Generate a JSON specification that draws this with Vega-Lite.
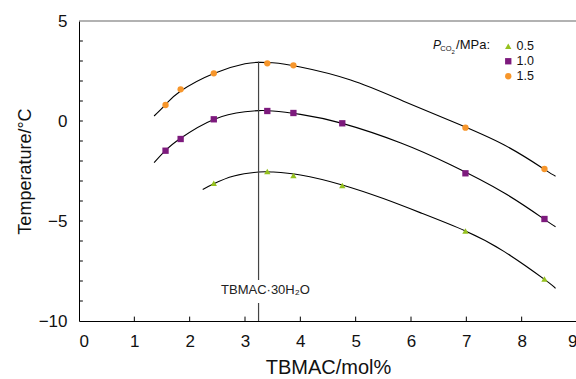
{
  "$schema": "https://vega.github.io/schema/vega-lite/v6.json",
  "width": 498,
  "height": 300,
  "autosize": {"type": "none"},
  "padding": {"left": 79, "top": 21, "right": 0, "bottom": 58},
  "background": "white",
  "config": {
    "view": {"stroke": null},
    "font": "Liberation Sans",
    "axis": {"grid": false, "ticks": false, "labelOverlap": false, "domainColor": "#000", "labelColor": "#111", "titleColor": "#111", "labelFont": "Liberation Sans", "titleFont": "Liberation Sans", "titleFontWeight": "normal", "labelFontSize": 17}
  },
  "datasets": {
    "points": [
      {"x": 1.564, "t": 0.8, "p": "1.5"},
      {"x": 1.837, "t": 1.585, "p": "1.5"},
      {"x": 2.436, "t": 2.385, "p": "1.5"},
      {"x": 3.403, "t": 2.885, "p": "1.5"},
      {"x": 3.875, "t": 2.785, "p": "1.5"},
      {"x": 6.984, "t": -0.335, "p": "1.5"},
      {"x": 8.412, "t": -2.4, "p": "1.5"},
      {"x": 1.564, "t": -1.485, "p": "1.0"},
      {"x": 1.837, "t": -0.9, "p": "1.0"},
      {"x": 2.436, "t": 0.085, "p": "1.0"},
      {"x": 3.403, "t": 0.5, "p": "1.0"},
      {"x": 3.875, "t": 0.4, "p": "1.0"},
      {"x": 4.758, "t": -0.115, "p": "1.0"},
      {"x": 6.984, "t": -2.615, "p": "1.0"},
      {"x": 8.412, "t": -4.9, "p": "1.0"},
      {"x": 2.436, "t": -3.115, "p": "0.5"},
      {"x": 3.403, "t": -2.52, "p": "0.5"},
      {"x": 3.875, "t": -2.72, "p": "0.5"},
      {"x": 4.758, "t": -3.22, "p": "0.5"},
      {"x": 6.984, "t": -5.5, "p": "0.5"},
      {"x": 8.412, "t": -7.9, "p": "0.5"}
    ],
    "curves": [
      {"x": 1.357, "t": 0.25, "p": "1.5"},
      {"x": 1.564, "t": 0.82, "p": "1.5"},
      {"x": 1.837, "t": 1.5, "p": "1.5"},
      {"x": 2.436, "t": 2.38, "p": "1.5"},
      {"x": 3.0, "t": 2.86, "p": "1.5"},
      {"x": 3.25, "t": 2.93, "p": "1.5"},
      {"x": 3.5, "t": 2.91, "p": "1.5"},
      {"x": 4.0, "t": 2.7, "p": "1.5"},
      {"x": 4.909, "t": 2.05, "p": "1.5"},
      {"x": 5.817, "t": 1.05, "p": "1.5"},
      {"x": 6.724, "t": 0.0, "p": "1.5"},
      {"x": 7.686, "t": -1.2, "p": "1.5"},
      {"x": 8.412, "t": -2.42, "p": "1.5"},
      {"x": 8.612, "t": -2.76, "p": "1.5"},
      {"x": 1.357, "t": -2.08, "p": "1.0"},
      {"x": 1.564, "t": -1.47, "p": "1.0"},
      {"x": 1.837, "t": -0.86, "p": "1.0"},
      {"x": 2.436, "t": 0.08, "p": "1.0"},
      {"x": 3.0, "t": 0.46, "p": "1.0"},
      {"x": 3.25, "t": 0.52, "p": "1.0"},
      {"x": 3.5, "t": 0.5, "p": "1.0"},
      {"x": 4.002, "t": 0.33, "p": "1.0"},
      {"x": 4.758, "t": -0.12, "p": "1.0"},
      {"x": 5.817, "t": -1.1, "p": "1.0"},
      {"x": 6.724, "t": -2.2, "p": "1.0"},
      {"x": 7.686, "t": -3.6, "p": "1.0"},
      {"x": 8.412, "t": -4.92, "p": "1.0"},
      {"x": 8.612, "t": -5.29, "p": "1.0"},
      {"x": 2.236, "t": -3.42, "p": "0.5"},
      {"x": 2.436, "t": -3.14, "p": "0.5"},
      {"x": 2.8, "t": -2.75, "p": "0.5"},
      {"x": 3.25, "t": -2.55, "p": "0.5"},
      {"x": 3.5, "t": -2.55, "p": "0.5"},
      {"x": 4.002, "t": -2.7, "p": "0.5"},
      {"x": 4.758, "t": -3.2, "p": "0.5"},
      {"x": 5.5, "t": -3.88, "p": "0.5"},
      {"x": 6.2, "t": -4.62, "p": "0.5"},
      {"x": 6.984, "t": -5.5, "p": "0.5"},
      {"x": 7.686, "t": -6.53, "p": "0.5"},
      {"x": 8.412, "t": -7.92, "p": "0.5"},
      {"x": 8.612, "t": -8.37, "p": "0.5"}
    ],
    "vline": [
      {"x": 3.245, "top": 2.97, "bottom": -7.95},
      {"x": 3.245, "top": -9.1, "bottom": -10}
    ],
    "xticks": [{"v": 1}, {"v": 2}, {"v": 3}, {"v": 4}, {"v": 5}, {"v": 6}, {"v": 7}, {"v": 8}],
    "yticks": [{"v": -9}, {"v": -8}, {"v": -7}, {"v": -6}, {"v": -5}, {"v": -4}, {"v": -3}, {"v": -2}, {"v": -1}, {"v": 0}, {"v": 1}, {"v": 2}, {"v": 3}, {"v": 4}]
  },
  "layer": [
    {
      "data": {"name": "curves"},
      "mark": {"type": "line", "color": "#000", "strokeWidth": 1.1, "interpolate": "natural"},
      "encoding": {
        "x": {"field": "x", "type": "quantitative", "scale": {"domain": [0, 9], "nice": false, "zero": false},
          "axis": {"title": "TBMAC/mol%", "format": "d", "titleFontSize": 20, "values": [0,1,2,3,4,5,6,7,8,9], "tickCount": 20, "labelPadding": 12, "titlePadding": 8}},
        "y": {"field": "t", "type": "quantitative", "scale": {"domain": [-10, 5], "nice": false, "zero": false},
          "axis": {"title": "Temperature/°C", "titleFontSize": 18, "values": [-10, -5, 0, 5], "tickCount": 20, "labelPadding": 12, "titlePadding": 4}},
        "detail": {"field": "p"}
      }
    },
    {
      "data": {"values": [{}]},
      "mark": {"type": "rule", "color": "#666", "strokeWidth": 1.2},
      "encoding": {"y": {"datum": 5, "type": "quantitative"}}
    },
    {
      "data": {"name": "xticks"},
      "mark": {"type": "rule", "color": "#000", "strokeWidth": 1},
      "encoding": {
        "x": {"field": "v", "type": "quantitative"},
        "y": {"datum": -10, "type": "quantitative"},
        "y2": {"datum": -9.78}
      }
    },
    {
      "data": {"name": "yticks"},
      "mark": {"type": "rule", "color": "#000", "strokeWidth": 1},
      "encoding": {
        "y": {"field": "v", "type": "quantitative"},
        "x": {"datum": 0, "type": "quantitative"},
        "x2": {"datum": 0.07}
      }
    },
    {
      "data": {"name": "vline"},
      "mark": {"type": "rule", "color": "#444", "strokeWidth": 1.2},
      "encoding": {
        "x": {"field": "x", "type": "quantitative"},
        "y": {"field": "top", "type": "quantitative"},
        "y2": {"field": "bottom"}
      }
    },
    {
      "data": {"name": "points"},
      "mark": {"type": "point", "filled": true, "opacity": 1, "size": 40},
      "encoding": {
        "x": {"field": "x", "type": "quantitative"},
        "y": {"field": "t", "type": "quantitative"},
        "color": {"field": "p", "type": "nominal", "scale": {"domain": ["0.5", "1.0", "1.5"], "range": ["#95c11f", "#7d1a7d", "#f7962b"]},
          "legend": {"title": null, "orient": "none", "legendX": 423, "legendY": 19, "labelFontSize": 12.5, "labelFont": "Liberation Sans", "labelColor": "#111", "symbolSize": 40, "rowPadding": 2, "labelOffset": 2}},
        "shape": {"field": "p", "type": "nominal", "scale": {"domain": ["0.5", "1.0", "1.5"], "range": ["triangle-up", "square", "circle"]}}
      }
    },
    {
      "data": {"values": [{}]},
      "mark": {"type": "text", "text": "TBMAC·30H₂O", "fontSize": 13, "font": "Liberation Sans", "color": "#222", "align": "center", "baseline": "middle"},
      "encoding": {"x": {"datum": 3.37, "type": "quantitative"}, "y": {"datum": -8.45, "type": "quantitative"}}
    },
    {
      "data": {"values": [{}]},
      "mark": {"type": "text", "text": "P", "fontSize": 12, "fontStyle": "italic", "font": "Liberation Sans", "color": "#111", "align": "left", "baseline": "alphabetic"},
      "encoding": {"x": {"datum": 6.398, "type": "quantitative"}, "y": {"datum": 3.6, "type": "quantitative"}}
    },
    {
      "data": {"values": [{}]},
      "mark": {"type": "text", "text": "CO", "fontSize": 7.5, "font": "Liberation Sans", "color": "#111", "align": "left", "baseline": "alphabetic"},
      "encoding": {"x": {"datum": 6.53, "type": "quantitative"}, "y": {"datum": 3.5, "type": "quantitative"}}
    },
    {
      "data": {"values": [{}]},
      "mark": {"type": "text", "text": "2", "fontSize": 6, "font": "Liberation Sans", "color": "#111", "align": "left", "baseline": "alphabetic"},
      "encoding": {"x": {"datum": 6.73, "type": "quantitative"}, "y": {"datum": 3.35, "type": "quantitative"}}
    },
    {
      "data": {"values": [{}]},
      "mark": {"type": "text", "text": "/MPa:", "fontSize": 13, "font": "Liberation Sans", "color": "#111", "align": "left", "baseline": "alphabetic"},
      "encoding": {"x": {"datum": 6.815, "type": "quantitative"}, "y": {"datum": 3.6, "type": "quantitative"}}
    }
  ]
}
